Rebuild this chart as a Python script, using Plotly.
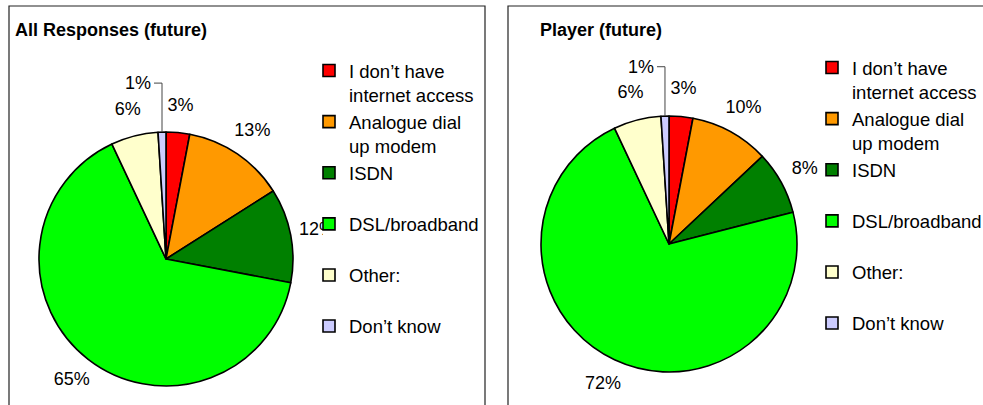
import math
import plotly.graph_objects as go

W, H = 983, 405

# Connection types (legend order = slice order, clockwise from 12 o'clock)
categories = [
    "I don’t have<br>internet access",
    "Analogue dial<br>up modem",
    "ISDN",
    "DSL/broadband",
    "Other:",
    "Don’t know",
]
all_values = [3, 13, 12, 65, 6, 1]
player_values = [3, 10, 8, 72, 6, 1]
colors = ["#FF0000", "#FF9900", "#008000", "#00FF00", "#FFFFCC", "#CCCCFF"]

titles = ["All Responses (future)", "Player (future)"]

FONT = "Arial, Liberation Sans, sans-serif"
FS = 18
LEGEND_FS = 18.5


def legend_label(text, suffix=""):
    # every legend entry takes two text lines so entries are evenly spaced;
    # the suffix keeps each pie's entries in its own legend
    base = text if "<br>" in text else text + "<br>\u00a0"
    return base + suffix


def px_x(x):
    return x / W


def px_y(y):
    return 1 - y / H


# pie centre and radius in pixels; label_clip = right edge of the label area
pies = [
    dict(values=all_values, cx=166, cy=259, r=127, legend="legend", title_x=13,
         suffix="", axes=("x", "y"), label_clip=323),
    dict(values=player_values, cx=669, cy=244, r=128, legend="legend2", title_x=538,
         suffix="\u200b", axes=("x2", "y2"), label_clip=W),
]

fig = go.Figure()
annotations = []
shapes = []

for p, title in zip(pies, titles):
    cx, cy, r = p["cx"], p["cy"], p["r"]
    fig.add_trace(go.Pie(
        labels=[legend_label(c, p["suffix"]) for c in categories],
        values=p["values"],
        sort=False,
        direction="clockwise",
        rotation=0,
        marker=dict(colors=colors, line=dict(color="#000000", width=1.6)),
        textinfo="none",
        hoverinfo="label+percent",
        domain=dict(x=[px_x(cx - r), px_x(cx + r)], y=[px_y(cy + r), px_y(cy - r)]),
        legend=p["legend"],
        showlegend=True,
    ))

    # percentage labels, placed radially outside each slice (pixel space)
    total = sum(p["values"])
    cum = 0
    n = len(p["values"])
    lx, ly, lt = [], [], []
    for i, v in enumerate(p["values"]):
        mid = (cum + v / 2) / total
        cum += v
        theta = 2 * math.pi * mid
        sx, sy = math.sin(theta), -math.cos(theta)
        label = f"{round(100 * v / total)}%"
        if i == n - 1:
            # smallest slice: elbow leader line from the rim up and to the left
            ex, ey = cx + r * sx, cy + r * sy
            ky = cy - 1.385 * r
            shapes.append(dict(
                type="path", xref="paper", yref="paper",
                path=(f"M{px_x(ex)},{px_y(ey)} L{px_x(ex)},{px_y(ky)} "
                      f"L{px_x(ex - 8)},{px_y(ky)}"),
                line=dict(color="#444444", width=1),
            ))
            annotations.append(dict(
                x=px_x(ex - 9), y=px_y(ky), xref="paper", yref="paper",
                text=label, showarrow=False, xanchor="right", yanchor="middle",
                font=dict(family=FONT, size=FS, color="#000000"),
            ))
        else:
            k = 1.21
            lx.append(cx + k * r * sx)
            ly.append(cy + k * r * sy)
            lt.append(label)

    fig.add_trace(go.Scatter(
        x=lx, y=ly, text=lt, mode="text",
        textposition="middle center",
        textfont=dict(family=FONT, size=FS, color="#000000"),
        hoverinfo="skip", showlegend=False, cliponaxis=True,
        xaxis=p["axes"][0], yaxis=p["axes"][1],
    ))

    annotations.append(dict(
        x=px_x(p["title_x"]), y=px_y(30), xref="paper", yref="paper",
        text=f"<b>{title}</b>", showarrow=False, xanchor="left", yanchor="middle",
        font=dict(family=FONT, size=FS, color="#000000"),
    ))

# panel frames
shapes.append(dict(type="rect", xref="paper", yref="paper",
                   x0=px_x(9), x1=px_x(485), y0=-0.1, y1=px_y(6),
                   line=dict(color="#222222", width=1.2), layer="below"))
shapes.append(dict(type="rect", xref="paper", yref="paper",
                   x0=px_x(508), x1=1.1, y0=-0.1, y1=px_y(6),
                   line=dict(color="#222222", width=1.2), layer="below"))

legend_common = dict(
    font=dict(family=FONT, size=LEGEND_FS, color="#000000"),
    bgcolor="rgba(255,255,255,0)",
    borderwidth=0,
    itemwidth=30,
    valign="top",
    xanchor="left",
    yanchor="top",
    traceorder="normal",
    itemclick=False,
    itemdoubleclick=False,
)

hidden_axis = dict(visible=False, fixedrange=True)
clip_left = pies[0]["label_clip"]

fig.update_layout(
    width=W,
    height=H,
    margin=dict(l=0, r=0, t=0, b=0, autoexpand=False),
    paper_bgcolor="#FFFFFF",
    plot_bgcolor="rgba(0,0,0,0)",
    annotations=annotations,
    shapes=shapes,
    xaxis=dict(range=[0, clip_left], domain=[0, px_x(clip_left)], anchor="y", **hidden_axis),
    yaxis=dict(range=[H, 0], domain=[0, 1], anchor="x", **hidden_axis),
    xaxis2=dict(range=[0, W], domain=[0, 1], anchor="y2", **hidden_axis),
    yaxis2=dict(range=[H, 0], domain=[0, 1], anchor="x2", **hidden_axis),
    legend=dict(x=px_x(309), y=px_y(52), **legend_common),
    legend2=dict(x=px_x(812), y=px_y(49), **legend_common),
)

fig.write_html("out.html")
